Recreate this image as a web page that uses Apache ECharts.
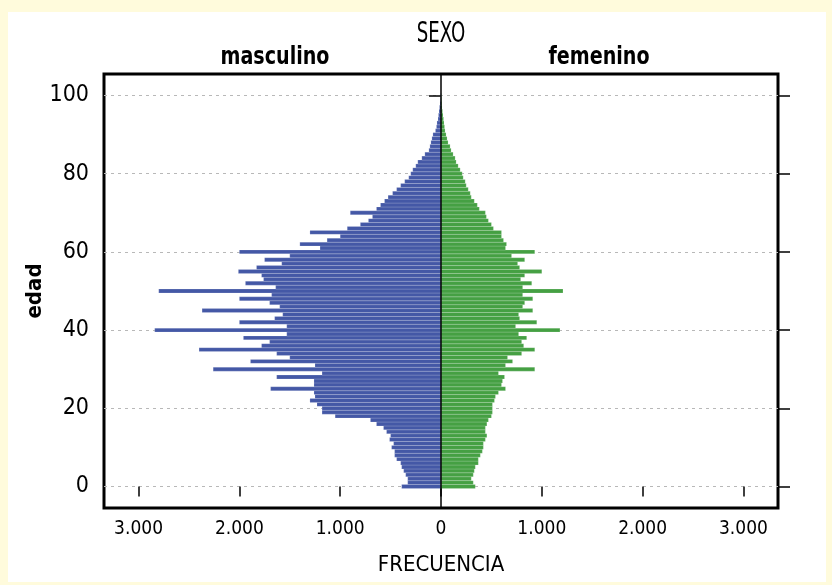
<!DOCTYPE html>
<html>
<head>
<meta charset="utf-8">
<script src="https://cdn.jsdelivr.net/npm/echarts@6/dist/echarts.min.js"></script>
<style>
html,body{margin:0;padding:0;background:#fffbdc;}
#chart{width:832px;height:585px;}
</style>
</head>
<body>
<div id="chart"></div>
<script>
// ---- data ----
const ages = [];
for (let a = 0; a <= 100; a++) ages.push(a);

const masculino = [
  390, 330, 330, 350, 370, 390, 400, 440, 460, 460,
  490, 470, 510, 500, 540, 570, 640, 700, 1050, 1180,
  1180, 1230, 1300, 1250, 1260, 1690, 1260, 1260, 1630, 1180,
  2260, 1250, 1890, 1500, 1630, 2400, 1780, 1700, 1960, 1530,
  2840, 1530, 2000, 1650, 1570, 2370, 1600, 1700, 2000, 1680,
  2800, 1640, 1940, 1760, 1780, 2010, 1830, 1580, 1750, 1500,
  2000, 1200, 1400, 1130, 1000, 1300, 930, 800, 720, 680,
  900, 640, 600, 560, 525, 480, 440, 400, 360, 320,
  300, 280, 250, 230, 190, 160, 120, 110, 100, 90,
  80, 55, 45, 40, 30, 25, 20, 15, 10, 5,
  3
];

const femenino = [
  340, 320, 300, 320, 330, 340, 370, 370, 390, 410,
  420, 420, 440, 455, 440, 440, 455, 470, 500, 510,
  510, 510, 530, 540, 570, 640, 600, 610, 630, 570,
  930, 640, 710, 660, 800, 930, 820, 800, 850, 770,
  1180, 740, 950, 780, 770, 910, 810, 830, 910, 810,
  1210, 810, 900, 790, 830, 1000, 780, 760, 830, 700,
  930, 640, 650, 620, 600, 600, 520, 500, 470, 450,
  440, 380, 360, 330, 300, 290, 270, 250, 240, 220,
  210, 190, 170, 150, 140, 120, 100, 90, 70, 60,
  50, 40, 35, 30, 25, 20, 15, 10, 8, 5,
  3
];

const xTicks = [-3000, -2000, -1000, 0, 1000, 2000, 3000];
const yTicks = [0, 20, 40, 60, 80, 100];

const FONT = "'Liberation Sans Narrow', 'DejaVu Sans Condensed', 'Arial Narrow', sans-serif";
const MALE = '#4458a6';
const FEM = '#45a043';

function fmt(v) {
  const a = Math.abs(v);
  return a >= 1000 ? Math.floor(a / 1000) + '.' + String(a % 1000).padStart(3, '0') : String(a);
}

function makeRender(fill) {
  return function (params, api) {
    const age = api.value(0);
    const v = api.value(1);
    const p0 = api.coord([0, age]);
    const p1 = api.coord([v, age]);
    const h = api.size([0, 1])[1];
    return {
      type: 'rect',
      shape: {
        x: Math.min(p0[0], p1[0]),
        y: p0[1] - h * 0.5,
        width: Math.abs(p1[0] - p0[0]),
        height: h
      },
      style: { fill: fill, stroke: 'rgba(255,255,255,0.28)', lineWidth: 0.6 }
    };
  };
}

const maleData = ages.map((a, i) => [a, -masculino[i]]);
const femData = ages.map((a, i) => [a, femenino[i]]);

const chart = echarts.init(document.getElementById('chart'));
chart.setOption({
  backgroundColor: '#fffbdc',
  animation: false,
  textStyle: { fontFamily: FONT },
  graphic: [
    { type: 'rect', z: -10, shape: { x: 8, y: 12, width: 818, height: 570 }, style: { fill: '#ffffff' } },
    { type: 'text', x: 441, y: 35, scaleX: 0.72, style: { text: 'SEXO', font: "28px " + FONT, fill: '#000', textAlign: 'center', textVerticalAlign: 'middle' } },
    { type: 'text', x: 275, y: 57, scaleX: 0.85, style: { text: 'masculino', font: "bold 25px " + FONT, fill: '#000', textAlign: 'center', textVerticalAlign: 'middle' } },
    { type: 'text', x: 599, y: 57, scaleX: 0.85, style: { text: 'femenino', font: "bold 25px " + FONT, fill: '#000', textAlign: 'center', textVerticalAlign: 'middle' } }
  ],
  grid: {
    left: 104, right: 54, top: 74, bottom: 77,
    show: true, borderColor: '#000', borderWidth: 3, backgroundColor: 'transparent'
  },
  xAxis: {
    type: 'value',
    min: -3343, max: 3343,
    name: 'FRECUENCIA',
    nameLocation: 'middle',
    nameGap: 46,
    nameMoveOverlap: false,
    nameTextStyle: { fontFamily: FONT, fontSize: 22, color: '#000' },
    axisLine: { show: false },
    axisTick: { show: true, customValues: xTicks, length: 10, lineStyle: { color: '#000', width: 1.5 } },
    axisLabel: { customValues: xTicks, formatter: fmt, fontFamily: FONT, fontSize: 19, color: '#000', margin: 12 },
    splitLine: { show: false }
  },
  yAxis: [
    {
      type: 'value',
      min: -5.5, max: 105.5,
      position: 'left',
      name: 'edad',
      nameLocation: 'middle',
      nameGap: 58,
      nameMoveOverlap: false,
      nameRotate: 90,
      nameTextStyle: { fontFamily: FONT, fontSize: 22, fontWeight: 'bold', color: '#000' },
      axisLine: { show: false },
      axisTick: { show: true, customValues: yTicks, length: 12, lineStyle: { color: '#000', width: 1.5 } },
      axisLabel: { customValues: yTicks, fontFamily: FONT, fontSize: 23, color: '#000', margin: 15 },
      splitLine: { show: true, lineStyle: { color: '#b8b8b8', width: 1, type: [3, 4] } }
    },
    {
      type: 'value',
      min: -5.5, max: 105.5,
      position: 'right',
      axisLine: { show: false },
      axisTick: { show: true, customValues: yTicks, length: 12, lineStyle: { color: '#000', width: 1.5 } },
      axisLabel: { show: false },
      splitLine: { show: false }
    }
  ],
  series: [
    {
      name: 'masculino',
      type: 'custom',
      renderItem: makeRender(MALE),
      encode: { x: 1, y: 0 },
      data: maleData,
      z: 2
    },
    {
      name: 'femenino',
      type: 'custom',
      renderItem: makeRender(FEM),
      encode: { x: 1, y: 0 },
      data: femData,
      z: 2,
      markLine: {
        silent: true,
        symbol: 'none',
        label: { show: false },
        lineStyle: { color: '#000', width: 1.5, type: 'solid' },
        data: [{ xAxis: 0 }],
        z: 5
      }
    }
  ]
});
</script>
</body>
</html>
